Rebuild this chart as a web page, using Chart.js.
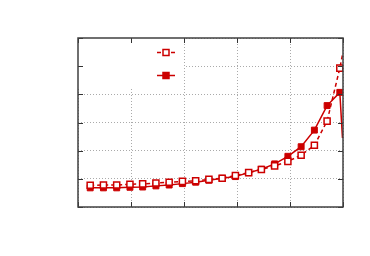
<!DOCTYPE html>
<html lang="en">
<head>
    <meta charset="UTF-8">
    <title>Two series</title>
    <script src="https://cdn.jsdelivr.net/npm/chart.js@4"></script>
    <style>
        html, body { margin: 0; padding: 0; background: #fff; }
        #wrap { width: 370px; height: 256px; }
    </style>
</head>
<body>
    <div id="wrap"><canvas id="chart"></canvas></div>
    <script>
        // x positions (axis 0..5) and the two series
        const xValues = [0.23, 0.48, 0.73, 0.98, 1.22, 1.47, 1.72, 1.97, 2.22, 2.47,
                         2.72, 2.97, 3.22, 3.46, 3.71, 3.96, 4.21, 4.46, 4.70, 4.94, 4.99];
        const openSeries = [0.77, 0.78, 0.78, 0.81, 0.82, 0.85, 0.88, 0.91, 0.93, 0.98,
                            1.02, 1.12, 1.22, 1.33, 1.46, 1.62, 1.84, 2.19, 3.05, 4.93, 5.40];
        const filledSeries = [0.68, 0.68, 0.68, 0.70, 0.71, 0.75, 0.78, 0.83, 0.88, 0.95,
                              1.02, 1.08, 1.22, 1.34, 1.53, 1.80, 2.14, 2.73, 3.60, 4.07, 2.45];
        const xTicks = [0, 1, 2, 3, 4, 5];
        const yTicks = [0, 1, 2, 3, 4, 5, 6];

        const red = 'rgb(204, 0, 0)';
        const toPoints = (ys) => ys.map((y, i) => ({ x: xValues[i], y: y }));
        // the last sample sits on the right edge and shows no marker
        const radii = (r) => xValues.map((v, i) => i === xValues.length - 1 ? 0 : r);

        // frame, inward tick marks and the (label-less) key in the top-left corner
        const framePlugin = {
            id: 'frame',
            beforeDatasetsDraw(chart) {
                const { ctx, chartArea: a, scales: { x } } = chart;
                ctx.save();
                ctx.fillStyle = '#fff';
                ctx.fillRect(a.left, a.top, x.getPixelForValue(2) - a.left, 49);
                ctx.restore();
            },
            afterDatasetsDraw(chart) {
                const { ctx, chartArea: a, scales: { x, y } } = chart;
                ctx.save();
                ctx.strokeStyle = '#333';
                ctx.lineWidth = 1;
                ctx.beginPath();
                xTicks.forEach(v => {
                    const px = Math.round(x.getPixelForValue(v)) + 0.5;
                    ctx.moveTo(px, a.top); ctx.lineTo(px, a.top + 5);
                    ctx.moveTo(px, a.bottom); ctx.lineTo(px, a.bottom - 5);
                });
                yTicks.forEach(v => {
                    const py = Math.round(y.getPixelForValue(v)) + 0.5;
                    ctx.moveTo(a.left, py); ctx.lineTo(a.left + 5, py);
                    ctx.moveTo(a.right, py); ctx.lineTo(a.right - 5, py);
                });
                ctx.stroke();
                ctx.lineWidth = 1.5;
                ctx.strokeStyle = '#404040';
                ctx.strokeRect(a.left, a.top, a.right - a.left, a.bottom - a.top);

                // key samples
                const keys = [
                    { dy: 14.5, dash: [4, 3], fill: '#fff' },
                    { dy: 37.5, dash: [], fill: red }
                ];
                keys.forEach(k => {
                    const ky = a.top + k.dy;
                    ctx.strokeStyle = red;
                    ctx.lineWidth = 1.5;
                    ctx.setLineDash(k.dash);
                    ctx.beginPath();
                    ctx.moveTo(a.left + 79, ky); ctx.lineTo(a.left + 97, ky);
                    ctx.stroke();
                    ctx.setLineDash([]);
                    ctx.fillStyle = k.fill;
                    ctx.fillRect(a.left + 85, ky - 3, 6, 6);
                    ctx.strokeRect(a.left + 85, ky - 3, 6, 6);
                });
                ctx.restore();
            }
        };

        new Chart(document.getElementById('chart'), {
            type: 'line',
            data: {
                datasets: [{
                    label: '',
                    data: toPoints(openSeries),
                    borderColor: red,
                    borderWidth: 1.5,
                    borderDash: [4, 3],
                    pointStyle: 'rect',
                    pointRadius: radii(4.3),
                    pointBorderWidth: 1.5,
                    pointBackgroundColor: '#fff',
                    pointBorderColor: red,
                    tension: 0
                }, {
                    label: '',
                    data: toPoints(filledSeries),
                    borderColor: red,
                    borderWidth: 1.5,
                    pointStyle: 'rect',
                    pointRadius: radii(4.2),
                    pointBorderWidth: 1,
                    pointBackgroundColor: red,
                    pointBorderColor: red,
                    tension: 0
                }]
            },
            options: {
                responsive: true,
                maintainAspectRatio: false,
                animation: false,
                layout: { padding: { left: 78, right: 27, top: 38, bottom: 49 } },
                plugins: { legend: { display: false }, tooltip: { enabled: false } },
                scales: {
                    x: {
                        type: 'linear', min: 0, max: 5,
                        ticks: { display: false, stepSize: 1 },
                        grid: { color: '#aaa', lineWidth: 1, drawTicks: false },
                        border: { display: false, dash: [1, 2] }
                    },
                    y: {
                        type: 'linear', min: 0, max: 6,
                        ticks: { display: false, stepSize: 1 },
                        grid: { color: '#aaa', lineWidth: 1, drawTicks: false },
                        border: { display: false, dash: [1, 2] }
                    }
                }
            },
            plugins: [framePlugin]
        });
    </script>
</body>
</html>
